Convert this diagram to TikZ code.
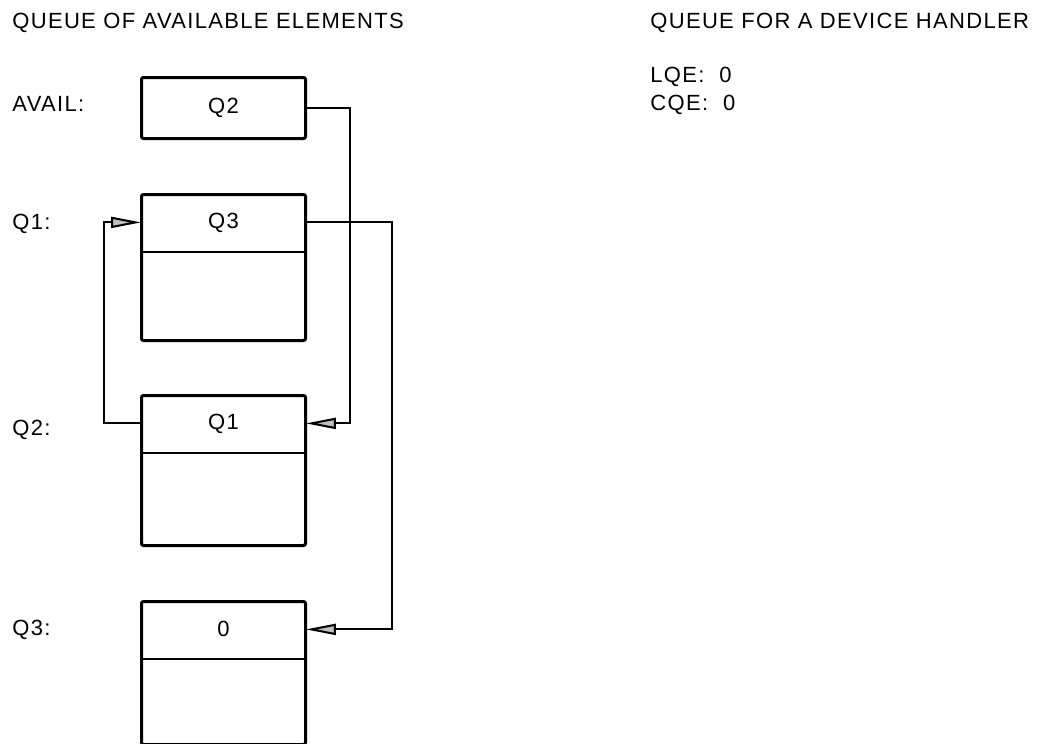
\documentclass[tikz,border=0pt]{standalone}
\usepackage{fontspec}
\setmainfont{Liberation Sans}[LetterSpace=6]
\usetikzlibrary{arrows.meta}
\begin{document}
\begin{tikzpicture}[x=0.5pt,y=-0.5pt,
  lbl/.style={anchor=base west,inner sep=0pt,font=\fontsize{11}{13}\selectfont},
  boxframe/.style={draw,line width=1.5pt,rounded corners=1pt,minimum width=82pt,inner sep=0pt,anchor=north west},
  rowcell/.style={minimum width=82pt,minimum height=29pt,inner sep=0pt,anchor=north,font=\fontsize{11}{13}\selectfont},
  divider/.style={line width=1.3pt},
  link/.style={line width=1pt},
  tip/.style={-{Triangle[length=15pt,width=5.5pt,fill=gray!50]}}]
\useasboundingbox (0,0) rectangle (1046,744);

% headers
\node[lbl] (h1) at (12,28) {QUEUE OF AVAILABLE ELEMENTS};
\node[lbl] (h2) at (650,28) {QUEUE FOR A DEVICE HANDLER};
\node[lbl] (lqe) at (650,83) {LQE:\ \ 0};
\node[lbl] (cqe) at (650,111) {CQE:\ \ 0};

% labels
\node[lbl] (lavail) at (12,112) {AVAIL:};
\node[lbl] (lq1) at (12,229) {Q1:};
\node[lbl] (lq2) at (12,435) {Q2:};
\node[lbl] (lq3) at (12,635) {Q3:};

% AVAIL box
\node[boxframe,minimum height=30.5pt,font=\fontsize{11}{13}\selectfont] (avail) at (140,76) {Q2};

% Q1
\node[boxframe,minimum height=73pt] (q1) at (140,193) {};
\node[rowcell] (q1top) at (q1.north) {Q3};
\draw[divider] (q1top.south west) -- (q1top.south east);

% Q2
\node[boxframe,minimum height=75pt] (q2) at (140,394) {};
\node[rowcell] (q2top) at (q2.north) {Q1};
\draw[divider] (q2top.south west) -- (q2top.south east);

% Q3
\node[boxframe,minimum height=71.5pt] (q3) at (140,600) {};
\node[rowcell] (q3top) at (q3.north) {0};
\draw[divider] (q3top.south west) -- (q3top.south east);

% connectors
\coordinate (a1) at (350,0);
\coordinate (b1) at (392,0);
\coordinate (c1) at (104,0);
\draw[link,tip] (avail.east) -- (avail.east -| a1) -- (q2top.east -| a1) -- (q2top.east);
\draw[link,tip] (q1top.east) -- (q1top.east -| b1) -- (q3top.east -| b1) -- (q3top.east);
\draw[link,tip] (q2top.west) -- (q2top.west -| c1) -- (q1top.west -| c1) -- (q1top.west);
\end{tikzpicture}
\end{document}
